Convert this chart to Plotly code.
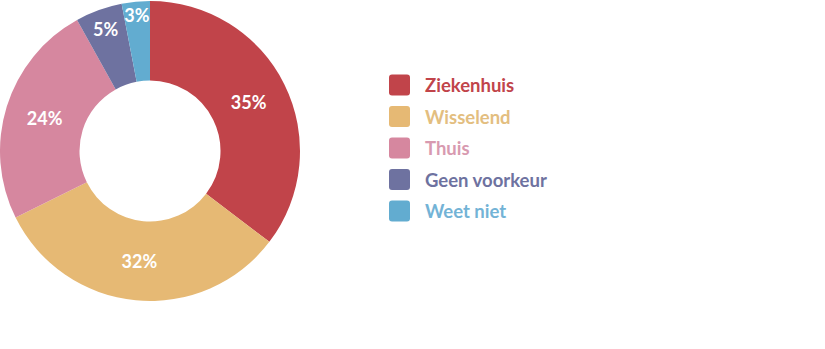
import plotly.graph_objects as go

labels = ["Ziekenhuis", "Wisselend", "Thuis", "Geen voorkeur", "Weet niet"]
values = [35, 32, 24, 5, 3]
slice_colors = ["#C1444A", "#E6B974", "#D6879F", "#6E72A0", "#62ACD0"]
legend_text_colors = ["#C1444A", "#E3BE80", "#D89AB0", "#6E72A0", "#73B3D6"]

W, H = 825, 349
FONT = "Lato, 'Open Sans', sans-serif"

fig = go.Figure()
fig.add_trace(go.Pie(
    labels=labels,
    values=values,
    text=[f"{v}%" for v in values],
    texttemplate="%{text}",
    textposition="inside",
    insidetextorientation="horizontal",
    textfont=dict(family=FONT, size=18, color="white", weight="bold"),
    marker=dict(colors=slice_colors, line=dict(width=0)),
    hole=0.47,
    sort=False,
    direction="clockwise",
    rotation=0,
    showlegend=False,
    domain=dict(x=[0, 300 / W], y=[1 - 302 / H, 1]),
    hoverinfo="label+value",
))

# custom legend
shapes = []
annotations = []
x_sq = 399.5 / W
x_txt = 423 / W
y_px = [85, 116.5, 148, 179.5, 211]
s = 10.5
r = 3
path = (f"M{-s + r},{-s} L{s - r},{-s} Q{s},{-s} {s},{-s + r} L{s},{s - r} Q{s},{s} {s - r},{s} "
        f"L{-s + r},{s} Q{-s},{s} {-s},{s - r} L{-s},{-s + r} Q{-s},{-s} {-s + r},{-s} Z")
for lab, col, tcol, yp in zip(labels, slice_colors, legend_text_colors, y_px):
    yy = 1 - yp / H
    shapes.append(dict(type="path", xref="paper", yref="paper",
                       xsizemode="pixel", ysizemode="pixel",
                       xanchor=x_sq, yanchor=yy, path=path,
                       fillcolor=col, line=dict(width=0)))
    annotations.append(dict(x=x_txt, y=yy, xref="paper", yref="paper",
                            xanchor="left", yanchor="middle", showarrow=False,
                            text=lab, font=dict(family=FONT, size=18.5, color=tcol, weight="bold")))

fig.update_layout(
    width=W, height=H,
    margin=dict(l=0, r=0, t=0, b=0),
    paper_bgcolor="white", plot_bgcolor="white",
    shapes=shapes, annotations=annotations,
    uniformtext=dict(minsize=17, mode="show"),
)

fig.write_html("out.html")
